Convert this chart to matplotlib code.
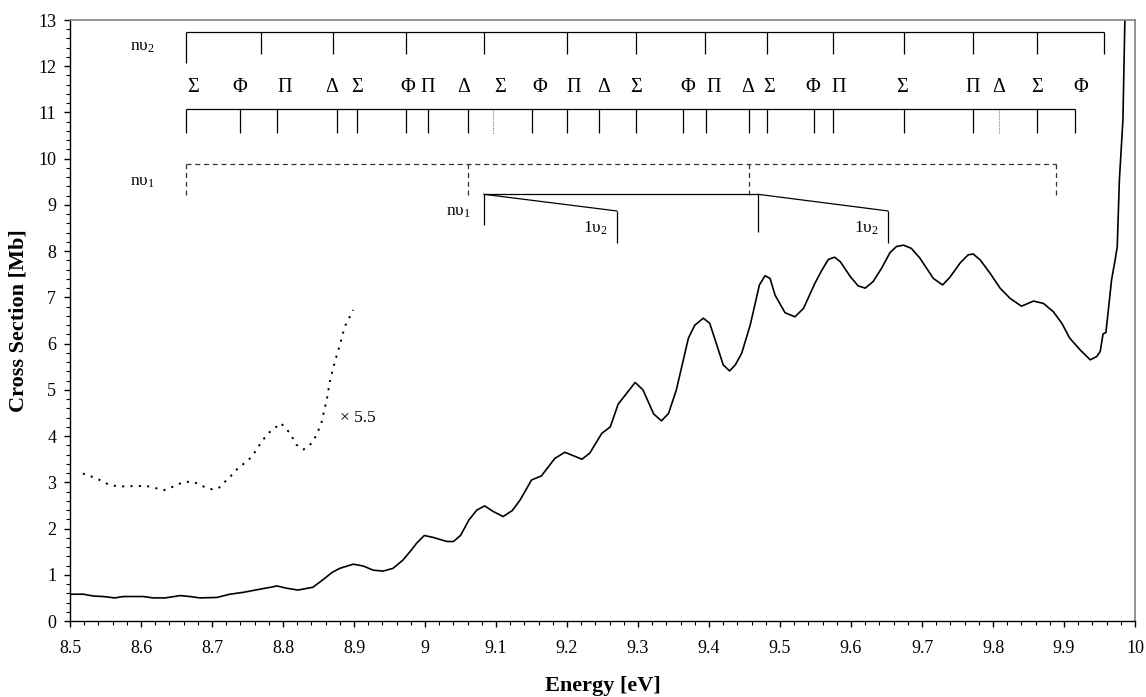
import numpy as np
import matplotlib
matplotlib.use("Agg")
import matplotlib.pyplot as plt
from matplotlib.ticker import MultipleLocator

plt.rcParams["font.family"] = "Liberation Serif"
plt.rcParams["mathtext.fontset"] = "custom"
plt.rcParams["mathtext.rm"] = "Liberation Serif"
plt.rcParams["font.size"] = 12

# measured cross section (solid)
energy = [8.500, 8.519, 8.533, 8.547, 8.563, 8.575, 8.603, 8.617, 8.634, 8.655,
          8.669, 8.683, 8.707, 8.725, 8.744, 8.768, 8.786, 8.791, 8.805, 8.821,
          8.842, 8.856, 8.869, 8.880, 8.899, 8.913, 8.927, 8.941, 8.955, 8.969,
          8.981, 8.988, 8.999, 9.011, 9.031, 9.040, 9.050, 9.062, 9.073, 9.084,
          9.096, 9.110, 9.123, 9.134, 9.150, 9.164, 9.183, 9.197, 9.221, 9.232,
          9.249, 9.261, 9.272, 9.296, 9.307, 9.322, 9.333, 9.343, 9.354, 9.371,
          9.380, 9.392, 9.401, 9.411, 9.420, 9.429, 9.437, 9.446, 9.458, 9.471,
          9.479, 9.486, 9.493, 9.507, 9.521, 9.533, 9.549, 9.559, 9.568, 9.577,
          9.585, 9.599, 9.610, 9.620, 9.631, 9.643, 9.655, 9.664, 9.674, 9.685,
          9.697, 9.716, 9.729, 9.739, 9.754, 9.765, 9.772, 9.782, 9.796, 9.810,
          9.824, 9.840, 9.857, 9.871, 9.885, 9.897, 9.908, 9.923, 9.937, 9.946,
          9.951, 9.955, 9.959, 9.962, 9.967, 9.972, 9.975, 9.978, 9.983, 9.986]
sigma = [0.58, 0.58, 0.54, 0.53, 0.50, 0.53, 0.53, 0.50, 0.50, 0.55,
         0.53, 0.50, 0.51, 0.58, 0.62, 0.69, 0.74, 0.76, 0.71, 0.67,
         0.73, 0.89, 1.05, 1.14, 1.23, 1.19, 1.10, 1.08, 1.14, 1.32,
         1.54, 1.68, 1.85, 1.81, 1.72, 1.72, 1.85, 2.19, 2.40, 2.49,
         2.37, 2.26, 2.39, 2.62, 3.05, 3.14, 3.52, 3.65, 3.50, 3.63,
         4.06, 4.20, 4.69, 5.16, 5.00, 4.48, 4.33, 4.49, 5.00, 6.12,
         6.40, 6.55, 6.44, 5.97, 5.54, 5.41, 5.54, 5.79, 6.40, 7.27,
         7.47, 7.41, 7.05, 6.67, 6.58, 6.76, 7.30, 7.59, 7.82, 7.87,
         7.77, 7.45, 7.25, 7.20, 7.34, 7.63, 7.97, 8.10, 8.13, 8.06,
         7.85, 7.41, 7.27, 7.43, 7.75, 7.92, 7.94, 7.81, 7.52, 7.20,
         6.98, 6.81, 6.92, 6.87, 6.69, 6.44, 6.12, 5.86, 5.65, 5.72,
         5.83, 6.21, 6.24, 6.66, 7.38, 7.81, 8.10, 9.54, 10.84, 13.2]

# low energy part magnified x 5.5 (dotted)
energy_x55 = [8.518, 8.533, 8.542, 8.556, 8.570, 8.594, 8.608, 8.622, 8.632, 8.646,
              8.660, 8.674, 8.688, 8.700, 8.709, 8.718, 8.725, 8.735, 8.746, 8.756,
              8.770, 8.779, 8.797, 8.810, 8.819, 8.829, 8.840, 8.847, 8.854, 8.862,
              8.866, 8.873, 8.880, 8.887, 8.899]
sigma_x55 = [3.19, 3.11, 3.05, 2.94, 2.91, 2.92, 2.92, 2.87, 2.83, 2.91,
             3.01, 3.01, 2.91, 2.85, 2.87, 3.01, 3.11, 3.28, 3.42, 3.55,
             3.88, 4.06, 4.28, 4.06, 3.81, 3.71, 3.84, 4.02, 4.28, 4.82,
             5.18, 5.61, 5.97, 6.37, 6.73]

# progression combs
nu2_ticks = [8.663, 8.769, 8.870, 8.973, 9.083, 9.200, 9.297, 9.394, 9.482,
             9.575, 9.675, 9.772, 9.862, 9.956]
state_ticks = [8.663, 8.739, 8.792, 8.876, 8.904, 8.973, 9.004, 9.061, 9.096,
               9.151, 9.200, 9.245, 9.297, 9.363, 9.396, 9.456, 9.482, 9.548,
               9.575, 9.675, 9.772, 9.808, 9.862, 9.915]
state_dotted = [9.096, 9.808]
state_labels = ["Σ", "Φ", "Π", "Δ", "Σ", "Φ", "Π", "Δ", "Σ", "Φ", "Π", "Δ",
                "Σ", "Φ", "Π", "Δ", "Σ", "Φ", "Π", "Σ", "Π", "Δ", "Σ", "Φ"]
state_label_x = [8.673, 8.739, 8.803, 8.869, 8.904, 8.975, 9.004, 9.055, 9.106,
                 9.161, 9.210, 9.252, 9.297, 9.370, 9.406, 9.455, 9.485, 9.546,
                 9.582, 9.672, 9.772, 9.808, 9.862, 9.923]
nu1_ticks = [8.663, 9.061, 9.456, 9.889]
nu1_inner = [9.083, 9.469]
one_nu2 = [9.270, 9.652]

fig = plt.figure(figsize=(11.46, 6.97), dpi=100)
ax = fig.add_axes([0.0611, 0.1090, 0.9293, 0.8623])

ax.plot(energy, sigma, color="black", lw=1.2)
ax.plot(energy_x55, sigma_x55, color="black", lw=1.4, linestyle=(0, (1.1, 3.2)))
ax.text(8.880, 4.39, "× 5.5", fontsize=12.5, ha="left", va="center")

# n v2 comb
ax.hlines(12.74, nu2_ticks[0], nu2_ticks[-1], color="black", lw=0.9)
ax.vlines(nu2_ticks[1:], 12.26, 12.74, color="black", lw=0.9)
ax.vlines(nu2_ticks[0], 12.07, 12.74, color="black", lw=0.9)
ax.text(8.620, 12.42, r"$\mathrm{n\upsilon_{2}}$", fontsize=12.5, ha="right", va="center")

# state labels and comb
for x, lab in zip(state_label_x, state_labels):
    ax.text(x, 11.53, lab, fontsize=14.5, ha="center", va="center")
ax.hlines(11.08, state_ticks[0], state_ticks[-1], color="black", lw=0.9)
solid = [t for t in state_ticks if t not in state_dotted]
ax.vlines(solid, 10.56, 11.08, color="black", lw=0.9)
ax.vlines(state_dotted, 10.56, 11.08, color="gray", lw=0.8, linestyle=(0, (1, 1)))

# n v1 comb (dashed)
ax.hlines(9.88, nu1_ticks[0], nu1_ticks[-1], color="#333333", lw=0.9, linestyle=(0, (4, 3)))
ax.vlines(nu1_ticks, 9.21, 9.88, color="#333333", lw=0.9, linestyle=(0, (4, 3)))
ax.text(8.620, 9.50, r"$\mathrm{n\upsilon_{1}}$", fontsize=12.5, ha="right", va="center")

# inner n v1 bracket with 1 v2 branches
ax.hlines(9.23, nu1_inner[0], nu1_inner[1], color="black", lw=0.9)
ax.vlines(nu1_inner[0], 8.57, 9.23, color="black", lw=0.9)
ax.vlines(nu1_inner[1], 8.42, 9.23, color="black", lw=0.9)
for start, end in zip(nu1_inner, one_nu2):
    ax.plot([start, end], [9.23, 8.87], color="black", lw=0.9)
    ax.vlines(end, 8.18, 8.87, color="black", lw=0.9)
    ax.text(end - 0.013, 8.50, r"$\mathrm{1\upsilon_{2}}$", fontsize=12.5, ha="right", va="center")
ax.text(9.065, 8.85, r"$\mathrm{n\upsilon_{1}}$", fontsize=12.5, ha="right", va="center")

ax.set_xlim(8.5, 10.0)
ax.set_ylim(0, 13)
ax.xaxis.set_minor_locator(MultipleLocator(0.02))
ax.yaxis.set_major_locator(MultipleLocator(1))
ax.yaxis.set_minor_locator(MultipleLocator(0.2))
ax.set_xticks(np.arange(8.5, 10.01, 0.1))
ax.set_xticklabels(["8.5", "8.6", "8.7", "8.8", "8.9", "9", "9.1", "9.2", "9.3",
                    "9.4", "9.5", "9.6", "9.7", "9.8", "9.9", "10"])
ax.tick_params(axis="both", which="major", direction="out", length=4, width=1, labelsize=13)
ax.tick_params(axis="both", which="minor", direction="out", length=3, width=0.8)
ax.tick_params(axis="x", which="major", pad=10)
ax.tick_params(axis="y", which="major", pad=6)

for side in ["top", "right"]:
    ax.spines[side].set_color("#808080")
    ax.spines[side].set_linewidth(1.2)
for side in ["left", "bottom"]:
    ax.spines[side].set_linewidth(1.0)

ax.set_xlabel("Energy [eV]", fontsize=16, fontweight="bold", labelpad=13)
ax.set_ylabel("Cross Section [Mb]", fontsize=16, fontweight="bold", labelpad=7)

fig.savefig("out.png", dpi=100)
